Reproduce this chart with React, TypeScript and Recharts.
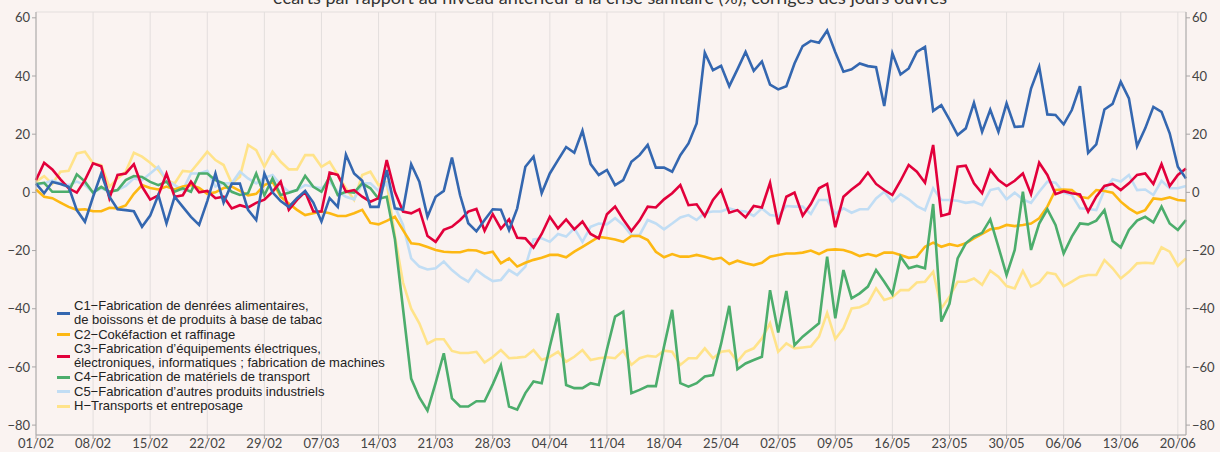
import React from 'react';
import { LineChart, Line, XAxis, YAxis, CartesianGrid, Legend } from 'recharts';

// daily values, 01/02 -> 21/06, écart en %
const c1 = [
  3, -0.3, 3.6, 2.9, 1.9, -6.1, -10.1, -1.5, 6.5, -1.5, -5.8, -6.1, -6.5, -11.8, -8,
  -0.9, -10.7, -1.5, -5, -8.4, -11.2, -3, 6.5, -3.5, 3, 3, -6, -9.5, 6.5,
  0, -3, -5, -2, 0.5, -3.5, -10, -2, -5, 13, 6.5, 4, -5, -5,
  7.7, -5.5, -6, 9.7, 3.7, -8.4, -1.5, 0.5, 12, -1, -10.6, -13.4, -9.5, -5.8,
  -6, -13, -5.5, 8.8, 12.3, -0.3, 6.5, 11.1, 15.6, 13.6, 21.2, 9.7, 6, 7.7,
  2.5, 4.2, 10.5, 12.8, 16.3, 8.5, 8.5, 7.1, 12.8, 16.8, 23.7, 48, 42, 43.5,
  36.5, 42.3, 48.3, 41.8, 45, 37, 35.4, 36.5, 44.3, 50.3, 52.1, 51.4, 55.6, 48.2,
  41.5, 42.3, 44.3, 43.4, 43, 29.7, 47.8, 40.5, 42.6, 48.3, 50, 28, 30, 25,
  19.7, 22, 30.8, 20.8, 28.4, 20.8, 30.6, 22.5, 22.7, 35.7, 43.2, 26.8, 26.6, 23.4,
  28.3, 36.5, 13.6, 16.5, 28.5, 30.4, 38, 32.3, 15.9, 22, 29.4, 27.7, 20.3, 8.8, 4.8,
];

const c2 = [
  1, -1.5, -2, -3.5, -5, -6, -5.8, -6.5, -6.5, -5.3, -5.5, -4.5, -0.5, 2.5, 1.5,
  1, 2, 1, 2, 2.5, 1.5, -0.5, 0, 1.5, 2, 0.5, -1, -0.5, 2.5,
  3.7, -1.5, -3.8, -6, -7.8, -7.2, -6.6, -7.2, -8.1, -8.1, -7.2, -6, -10.5, -11,
  -9.8, -8.4, -13, -17.5, -17.8, -18.8, -19.8, -20.4, -20.6, -20.6, -19.8, -20, -21, -20.4,
  -24.4, -22.7, -25.5, -24.2, -23.2, -22.5, -21.5, -21.5, -22.3, -20.4, -18.7, -17, -15.3, -15.7,
  -16.2, -17, -15, -15, -16.4, -20.4, -22.3, -21.2, -22.1, -22.1, -21.5, -22.1, -23, -22.5,
  -24.6, -23.5, -24.4, -25, -24.2, -22.1, -21.5, -21, -21, -20.7, -20, -21.2, -19.8, -19.6,
  -19.8, -20.7, -21.9, -21.2, -21.9, -20.7, -20.7, -21.5, -22.5, -22.1, -18.7, -17.3, -18.7, -17.8,
  -18.4, -17.5, -15.8, -14.3, -12.7, -12.3, -11.2, -11.6, -11.2, -10.7, -8.9, -4.9, 0.8, 1,
  0.8, -1.5, -2, 0.8, 0.5, -0.1, -3.2, -5.5, -7.2, -6.1, -2.1, -2.4, -1.7, -2.6, -2.9,
];

const c3 = [
  4.2, 10.2, 7.9, 4.5, 1.4, -0.1, 4.2, 10, 9, -2, 6, 6.5, 9.7, 2, -2.5,
  -1, 6.5, -1.5, -1, 3.7, 0, 0.5, -2, -1.5, -5.5, -4.4, -5.2, -3.6, -2.5,
  0.2, 3.7, -6, -2.6, 0.2, -6.6, -6.6, 6.8, 6, 0.2, 0.8, -1.5, -3.2, -2,
  11.1, 0.2, -6.6, -7.2, -5.8, -15, -17, -12.9, -11.8, -9.5, -6.6, -5.7, -13.2, -7.5,
  -12.5, -9.3, -15.6, -15.8, -19, -14.3, -8.4, -12.4, -9.3, -12.7, -10, -14.3, -15.8, -7.5,
  -4.9, -9.3, -13.3, -9.7, -4.9, -5.2, -2.4, -0.3, 2.5, -4.4, -4.1, -8.2, -2.6, 0.8,
  -7, -6.1, -8.6, -4.7, -5.2, 3.3, -11, -1.5, -0.1, -8, -4, 1.4, 2.9, -12,
  -1.5, 1, 3.1, 6.8, 2.9, 0.8, -0.9, 4, 9.4, 7.1, 3.3, 16.3, -8.1, -7.3,
  8.8, 9.2, 3.1, -0.3, 7.7, 4.2, 2.2, 4, 6.5, -0.6, 10.2, 6, -0.6, 0.4,
  -0.3, -0.7, -6.6, -1.5, 2.2, 2.9, 0.8, 3.1, 6, 6.5, 2.9, 9.7, 2.2, 6, 8.2,
];

const c4 = [
  2.9, 3.3, 0.2, 0.2, 0.2, 6.2, 3.7, -0.1, 1.9, 0.2, 0.8, 4.2, 5.6, 5.3, 3.6,
  2.5, 3.7, 0.2, 1.4, 0.2, 6.5, 6.5, 4.2, 3.1, 0.2, -0.9, -0.3, 6.5, -1,
  4.8, -0.9, -0.1, 0.8, 5.7, 1.9, 0.2, 5.4, -0.9, 0.2, -0.1, 3.1, 1.4, -2.2,
  -1.5, -16, -40, -64, -70.5, -75, -65.5, -55.3, -70.8, -73.6, -73.6, -71.8, -71.8, -66,
  -59.5, -73.6, -74.7, -69, -65, -65.6, -53, -41.6, -66.2, -67.3, -67.3, -65.6, -66.2, -54,
  -42.7, -41, -69, -67.9, -66.6, -66.6, -53, -40.4, -65.6, -66.8, -65.6, -63.3, -62.8, -52,
  -39, -60.8, -58.8, -57.6, -56.5, -33.6, -48.2, -33.9, -52.5, -49.6, -47.3, -45, -22.1, -43.3,
  -26.7, -36.4, -34.7, -32.4, -26.7, -30.7, -35, -22.1, -26.1, -25.3, -26.1, -4, -44.4, -38.3,
  -22.7, -17.5, -15.2, -13.9, -9.3, -18.7, -28.4, -19.8, 0.2, -19.8, -10.7, -5.8, -11.2, -21,
  -15.2, -10.7, -11, -9.7, -6.1, -16.7, -18.9, -12.9, -9.7, -8.4, -10.3, -4.9, -10.7, -12.9, -9.5,
];

const c5 = [
  2.5, 3.1, 4, 3.1, 2.5, 3.7, 2.5, -0.1, 1.4, 0.2, 0.8, 2.2, 4.8, 4.2, 6.5,
  8.8, 4.2, 2.5, 0.8, 6.5, 6.5, 7.4, 2, 3.1, 3.1, 7.1, 4.8, 3.1, 5,
  6, 2.5, 0.2, 0.8, 2.5, 1.9, 1.4, 3.7, 0.2, -1.5, -2.4, 3.1, 3.1, 0.5,
  3.1, -4.9, -11.2, -22.7, -25.5, -26.5, -26.1, -23.8, -26.7, -29, -30.7, -26.7, -28.8, -30.5,
  -30.1, -26.7, -28.4, -25.5, -16.2, -15.8, -17, -14.3, -15.2, -12.4, -17, -11.8, -10.7, -11,
  -8.9, -11.2, -14.7, -14.7, -9.5, -10.7, -12.7, -10.7, -8.6, -7.8, -9.5, -7, -6.6, -6.6,
  -5.5, -6.3, -6.6, -8.1, -5.5, -7.8, -8.1, -4.7, -4.9, -4.9, -7.4, -2.6, -2.6, -7.4,
  -5.5, -7, -5.8, -5.8, -2.1, 0.2, -3.2, -0.6, -2.4, -4.7, -6.1, 1.4, -2.6, -2.6,
  -2.9, -3.6, -3.2, -4.4, 0.8, 1.4, -2.4, -0.1, -2.4, -3.6, 0.2, 3.7, 3.3, -0.1,
  -0.9, -5.5, -5.7, -6.1, 0.8, 4.5, 3.7, 6, 0.8, 1, -0.9, 4, 1.4, 1.4, 2.2,
];

const h = [
  3.7, 5.6, 2.9, 7.1, 7.4, 13.4, 14, 10, 9.4, 1.9, 4.8, 7.1, 13.6, 12.3, 10.2,
  7.7, 4.2, 3.1, 7.4, 7.1, 10.5, 14, 11.1, 9.4, 3.1, 5.4, 16.3, 14.5, 8.8,
  14, 10.5, 7.9, 7.9, 12.8, 12.8, 8.8, 10.5, 6, 1.4, -2.6, 6, 7.1, 2.5,
  3.5, -15, -31, -40, -45, -52, -50.5, -50.5, -54.5, -55.2, -55.2, -54.8, -58.5, -56.6,
  -54.2, -57, -56.8, -56.5, -54.2, -57.6, -56.5, -54.8, -58.2, -56.5, -54.2, -57.6, -57, -56.7,
  -57, -54.4, -59.3, -57, -56.2, -56.5, -54.4, -54.8, -59.3, -57, -57, -53.6, -57, -54.8,
  -54.4, -58.2, -54.8, -53.6, -50.2, -45, -54.8, -51.9, -53.6, -53.3, -53, -49.6, -41.4, -50.4,
  -46.7, -39.9, -39.5, -38.1, -33, -37, -36.1, -33.6, -33.6, -31, -30.7, -27.3, -39.9, -35.9,
  -30.7, -30.7, -29.6, -31.8, -26.9, -29, -32.2, -33, -27, -32.4, -31, -27.6, -28.1, -32.3,
  -30.7, -29, -28.4, -28.4, -23.3, -26.1, -29.6, -27.3, -24.4, -24.2, -24.4, -18.9, -20.4, -25.3, -22.7,
];

const tickLabels = [
  '01/02', '08/02', '15/02', '22/02', '29/02', '07/03', '14/03', '21/03', '28/03', '04/04', '11/04',
  '18/04', '25/04', '02/05', '09/05', '16/05', '23/05', '30/05', '06/06', '13/06', '20/06',
];
const yTicks = [-80, -60, -40, -20, 0, 20, 40, 60];

const series = [
  { key: 'c1', color: '#3467B0', lines: ['C1−Fabrication de denrées alimentaires,', 'de boissons et de produits à base de tabac'] },
  { key: 'c2', color: '#FDB813', lines: ['C2−Cokéfaction et raffinage'] },
  { key: 'c3', color: '#E2003B', lines: ['C3−Fabrication d’équipements électriques,', 'électroniques, informatiques ; fabrication de machines'] },
  { key: 'c4', color: '#4CAD6C', lines: ['C4−Fabrication de matériels de transport'] },
  { key: 'c5', color: '#C1DDF4', lines: ['C5−Fabrication d’autres produits industriels'] },
  { key: 'h', color: '#FFE38A', lines: ['H−Transports et entreposage'] },
];

const data = c1.map((v, i) => ({ day: i, c1: v, c2: c2[i], c3: c3[i], c4: c4[i], c5: c5[i], h: h[i] }));
const xTicks = tickLabels.map((_, i) => i * 7);

const drawOrder = ['h', 'c5', 'c2', 'c4', 'c3', 'c1'];
const BG = '#FAF3F1';
const AXIS = '#A9A6A6';
const GRID = '#E3DEDD';
const Y_DOMAIN: [number, number] = [-83.4, 62];
const tickStyle = { fontSize: 13, fontFamily: 'Lato, sans-serif', fill: '#444' };
const fmtY = (v: number) => String(v).replace('-', '−');

const renderLegend = () => (
  <div style={{ fontFamily: '"Liberation Sans", Arial, sans-serif', fontSize: 13, lineHeight: '14.3px', color: '#222' }}>
    {series.map((s) => (
      <div key={s.key} style={{ display: 'flex', alignItems: 'center' }}>
        <span style={{ display: 'inline-block', width: 13, height: 3, background: s.color, marginRight: 4 }} />
        <div>
          {s.lines.map((l) => (
            <div key={l} style={{ whiteSpace: 'nowrap' }}>{l}</div>
          ))}
        </div>
      </div>
    ))}
  </div>
);

export default function App() {
  return (
    <div style={{ position: 'absolute', left: 0, top: 0, width: 1220, height: 452, background: BG, overflow: 'hidden' }}>
      <div style={{
        position: 'absolute', top: -12, left: 0, width: 1220, textAlign: 'center',
        fontFamily: 'Lato, sans-serif', fontSize: 18, lineHeight: '18px', color: '#333', whiteSpace: 'nowrap'
      }}>
        écarts par rapport au niveau antérieur à la crise sanitaire (%), corrigés des jours ouvrés
      </div>
      <LineChart width={1220} height={452} data={data} margin={{ top: 12, right: 0, left: 0, bottom: 0 }}>
        <CartesianGrid stroke={GRID} strokeWidth={1} />
        <XAxis
          dataKey="day"
          type="number"
          domain={[0, 141]}
          ticks={xTicks}
          tickFormatter={(v: number) => tickLabels[v / 7]}
          interval={0}
          height={17}
          tickSize={4}
          tickMargin={0}
          stroke={AXIS}
          tick={tickStyle}
        />
        <XAxis xAxisId="top" dataKey="day" type="number" domain={[0, 141]} orientation="top" height={0} tick={false} tickLine={false} stroke={AXIS} />
        <YAxis
          yAxisId="left"
          type="number"
          domain={Y_DOMAIN}
          ticks={yTicks}
          width={36}
          tickSize={4}
          tickMargin={2}
          stroke={AXIS}
          tick={tickStyle}
          tickFormatter={fmtY}
        />
        <YAxis
          yAxisId="right"
          orientation="right"
          type="number"
          domain={Y_DOMAIN}
          allowDataOverflow
          includeHidden
          ticks={yTicks}
          width={34}
          tickSize={4}
          tickMargin={2}
          stroke={AXIS}
          tick={{ ...tickStyle, textAnchor: 'start' }}
          tickFormatter={fmtY}
        />
        <Legend
          layout="vertical"
          align="center"
          verticalAlign="middle"
          content={renderLegend}
          wrapperStyle={{ left: 57, top: 299, width: 380 }}
        />
        {/* hidden copy so the right axis gets its scale */}
        <Line yAxisId="right" xAxisId="top" dataKey="c1" hide legendType="none" isAnimationActive={false} />
        {drawOrder.map((k) => {
          const s = series.find((x) => x.key === k)!;
          return (
            <Line
              key={k}
              yAxisId="left"
              type="linear"
              dataKey={k}
              stroke={s.color}
              strokeWidth={2.6}
              dot={false}
              isAnimationActive={false}
            />
          );
        })}
      </LineChart>
    </div>
  );
}
